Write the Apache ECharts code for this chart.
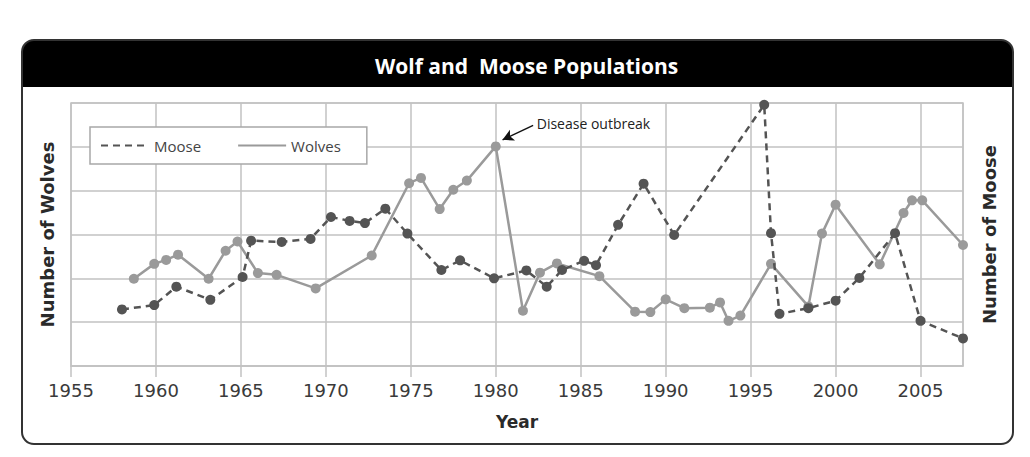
<!DOCTYPE html>
<html>
<head>
<meta charset="utf-8">
<script src="https://cdn.jsdelivr.net/npm/echarts@6/dist/echarts.min.js"></script>
<style>
  html, body { margin: 0; padding: 0; background: #fff; }
  #chart { width: 1030px; height: 457px; }
</style>
</head>
<body>
<div id="chart"></div>
<script>
// Wolf and moose populations (values on a 0-6 grid scale)
var mooseYears = [1958.0, 1959.9, 1961.2, 1963.2, 1965.1, 1965.6, 1967.4, 1969.1, 1970.3, 1971.4,
  1972.3, 1973.5, 1974.8, 1976.8, 1977.9, 1979.9, 1981.8, 1983.0, 1983.9, 1985.2, 1985.9,
  1987.2, 1988.7, 1990.5, 1995.8, 1996.2, 1996.7, 1998.4, 2000.0, 2001.4, 2003.5, 2005.0, 2007.5];
var mooseCounts = [1.29, 1.39, 1.81, 1.51, 2.03, 2.86, 2.83, 2.90, 3.40, 3.31,
  3.26, 3.59, 3.02, 2.19, 2.41, 2.00, 2.18, 1.81, 2.19, 2.40, 2.30,
  3.22, 4.16, 2.99, 5.96, 3.03, 1.19, 1.32, 1.49, 2.01, 3.03, 1.03, 0.63];

var wolfYears = [1958.7, 1959.9, 1960.6, 1961.3, 1963.1, 1964.1, 1964.8, 1966.0, 1967.1, 1969.4,
  1972.7, 1974.9, 1975.6, 1976.7, 1977.5, 1978.3, 1980.0, 1981.6, 1982.6, 1983.6, 1986.1,
  1988.2, 1989.1, 1990.0, 1991.1, 1992.6, 1993.2, 1993.7, 1994.4, 1996.2, 1998.4, 1999.2,
  2000.0, 2002.6, 2004.0, 2004.5, 2005.1, 2007.5];
var wolfCounts = [1.99, 2.33, 2.42, 2.54, 1.99, 2.63, 2.84, 2.12, 2.08, 1.77,
  2.52, 4.17, 4.29, 3.58, 4.02, 4.23, 5.01, 1.26, 2.13, 2.34, 2.05,
  1.24, 1.23, 1.52, 1.32, 1.33, 1.45, 1.03, 1.15, 2.33, 1.36, 3.02,
  3.68, 2.32, 3.49, 3.78, 3.78, 2.76];

// annotation arrow: from label to the 1980 wolf peak
var noteFrom = [1982.2, 5.49];
var noteTo = [1980.4, 5.16];

var moose = '#545454';
var wolf = '#9a9a9a';
var gridCol = '#c2c2c2';
var ink = '#2a2a2a';

var chart = echarts.init(document.getElementById('chart'), null, { renderer: 'svg' });
chart.setOption({
  animation: false,
  title: {
    text: 'Wolf and  Moose Populations',
    left: 370, top: 50,
    textStyle: { color: '#fff', fontFamily: 'Open Sans', fontWeight: 'bold', fontSize: 21 }
  },
  graphic: [
    { type: 'rect', z: -1, shape: { x: 22, y: 40, width: 991, height: 47, r: [12, 12, 0, 0] },
      style: { fill: '#000' } },
    { type: 'rect', z: -1, shape: { x: 22, y: 40, width: 991, height: 404, r: 12 },
      style: { fill: 'none', stroke: '#333', lineWidth: 2 } }
  ],
  legend: {
    left: 90, top: 127,
    orient: 'horizontal',
    itemWidth: 48, itemHeight: 14, itemGap: 36,
    padding: [11, 26, 11, 10],
    borderColor: '#a8a8a8', borderWidth: 1.5,
    backgroundColor: '#fff',
    itemStyle: { opacity: 0 },
    textStyle: { color: '#444', fontFamily: 'Open Sans', fontSize: 15 },
    data: ['Moose', 'Wolves']
  },
  grid: { left: 71, right: 67, top: 103, bottom: 91, show: true, borderColor: gridCol, borderWidth: 1.5 },
  xAxis: {
    type: 'value', min: 1955, max: 2007.5, interval: 5,
    name: 'Year', nameLocation: 'middle', nameGap: 47,
    nameTextStyle: { color: ink, fontFamily: 'DejaVu Sans', fontWeight: 'bold', fontSize: 17 },
    axisLine: { lineStyle: { color: gridCol, width: 1.5 } },
    axisTick: { show: true, length: 11, lineStyle: { color: gridCol, width: 1.5 } },
    axisLabel: { color: '#3a3a3a', fontFamily: 'DejaVu Sans', fontSize: 18, margin: 15, showMaxLabel: false,
      formatter: function(v) { return String(v); } },
    splitLine: { show: true, lineStyle: { color: gridCol, width: 1.5 } }
  },
  yAxis: [{
    type: 'value', min: 0, max: 6, interval: 1,
    name: 'Number of Wolves', nameLocation: 'middle', nameGap: 15, nameRotate: 90,
    nameTextStyle: { color: ink, fontFamily: 'DejaVu Sans', fontWeight: 'bold', fontSize: 18 },
    axisLine: { show: false }, axisTick: { show: false }, axisLabel: { show: false },
    splitLine: { show: true, lineStyle: { color: gridCol, width: 1.5 } }
  }, {
    type: 'value', min: 0, max: 6, interval: 1, position: 'right',
    name: 'Number of Moose', nameLocation: 'middle', nameGap: 17, nameRotate: 90,
    nameTextStyle: { color: ink, fontFamily: 'DejaVu Sans', fontWeight: 'bold', fontSize: 18 },
    axisLine: { show: false }, axisTick: { show: false }, axisLabel: { show: false },
    splitLine: { show: false }
  }],
  series: [{
    name: 'Moose',
    type: 'line',
    yAxisIndex: 1,
    data: mooseYears.map(function(y, i) { return [y, mooseCounts[i]]; }),
    symbol: 'circle', symbolSize: 10,
    itemStyle: { color: moose },
    lineStyle: { color: moose, width: 2.5, type: [7, 5] },
    z: 3
  }, {
    name: 'Wolves',
    type: 'line',
    data: wolfYears.map(function(y, i) { return [y, wolfCounts[i]]; }),
    symbol: 'circle', symbolSize: 10,
    itemStyle: { color: wolf },
    lineStyle: { color: wolf, width: 2.5 },
    z: 2,
    markLine: {
      silent: true,
      symbol: ['arrow', 'none'],
      symbolSize: [9, 11],
      lineStyle: { color: '#111', width: 1.5, type: 'solid' },
      label: {
        show: true, position: 'end', distance: 4,
        formatter: 'Disease outbreak',
        color: '#222', fontFamily: 'Open Sans', fontSize: 14
      },
      data: [[{ coord: noteTo }, { coord: noteFrom }]]
    }
  }]
});
</script>
</body>
</html>
